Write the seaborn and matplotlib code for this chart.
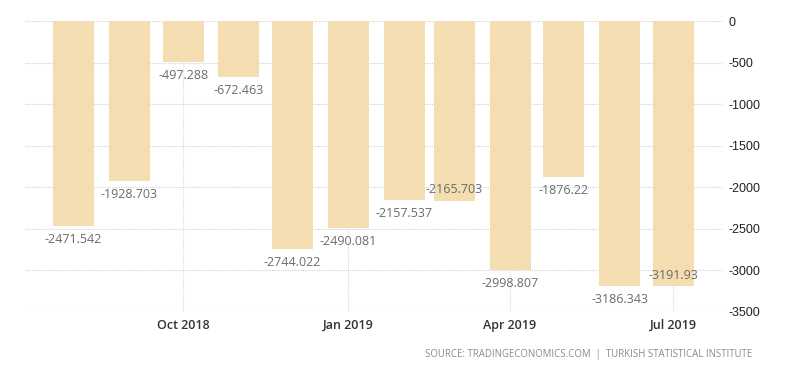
import numpy as np
import pandas as pd
import matplotlib
matplotlib.use("Agg")
import matplotlib.pyplot as plt
import matplotlib.dates as mdates
import seaborn as sns

# ---- data ----
months = ["2018-08-01", "2018-09-01", "2018-10-01", "2018-11-01", "2018-12-01", "2019-01-01",
          "2019-02-01", "2019-03-01", "2019-04-01", "2019-05-01", "2019-06-01", "2019-07-01"]
values = [-2471.542, -1928.703, -497.288, -672.463, -2744.022, -2490.081,
          -2157.537, -2165.703, -2998.807, -1876.22, -3186.343, -3191.93]
value_labels = ["-2471.542", "-1928.703", "-497.288", "-672.463", "-2744.022", "-2490.081",
                "-2157.537", "-2165.703", "-2998.807", "-1876.22", "-3186.343", "-3191.93"]
xtick_dates = ["2018-10-01", "2019-01-01", "2019-04-01", "2019-07-01"]
xtick_labels = ["Oct 2018", "Jan 2019", "Apr 2019", "Jul 2019"]
ytick_values = [0, -500, -1000, -1500, -2000, -2500, -3000, -3500]
source_text = "SOURCE: TRADINGECONOMICS.COM  |  TURKISH STATISTICAL INSTITUTE"

BAR = "#F3DDB1"

sns.set_theme(style="white")
plt.rcParams["font.family"] = ["Open Sans", "DejaVu Sans"]

fig = plt.figure(figsize=(8.0, 3.73), dpi=100)
ax = fig.add_axes([25 / 800, 1 - 312 / 373, (722 - 25) / 800, (312 - 21) / 373])

dnum = mdates.date2num(pd.to_datetime(months))
df = pd.DataFrame({"x": dnum, "v": values})
sns.barplot(data=df, x="x", y="v", native_scale=True, width=0.815, color=BAR,
            saturation=1, linewidth=0, ax=ax, errorbar=None)

x0 = mdates.date2num(pd.Timestamp("2018-07-05"))
x1 = mdates.date2num(pd.Timestamp("2019-07-28"))
ax.set_xlim(x0, x1)
ax.set_ylim(-3500, 0)

# grid
for yv in ytick_values:
    ax.axhline(yv, color="#d2d2d2", lw=0.8, ls=(0, (1, 1)), zorder=0)
xt = mdates.date2num(pd.to_datetime(xtick_dates))
for xv in xt:
    ax.axvline(xv, color="#dadada", lw=0.8, ls=(0, (1, 1)), zorder=0)

for s in ax.spines.values():
    s.set_visible(False)

ax.set_xticks(xt)
ax.set_xticklabels(xtick_labels, fontsize=9, color="#333333", fontweight="semibold")
ax.yaxis.tick_right()
ax.set_yticks(ytick_values)
ax.set_yticklabels([str(v) for v in ytick_values], fontsize=9, color="#222222",
                   family=["Liberation Sans", "DejaVu Sans"])
ax.tick_params(axis="both", length=0)
ax.tick_params(axis="x", pad=5)
ax.tick_params(axis="y", pad=5)
ax.set_xlabel("")
ax.set_ylabel("")

# value labels: below bar end, or above when colliding with previous label
prev_below = False
for i, (xv, v, lab) in enumerate(zip(dnum, values, value_labels)):
    above = False
    if i > 0 and prev_below and abs(v - values[i - 1]) < 100:
        above = True
    if above:
        ax.annotate(lab, (xv, v), xytext=(0, 8), textcoords="offset points",
                    ha="center", va="center", fontsize=9, color="#6b6b6b")
        prev_below = False
    else:
        ax.annotate(lab, (xv, v), xytext=(0, -9.5), textcoords="offset points",
                    ha="center", va="center", fontsize=9, color="#6b6b6b",
                    annotation_clip=False)
        prev_below = True

fig.text(752 / 800, 1 - 355 / 373, source_text, ha="right", va="center",
         fontsize=6.9, color="#8a8a8a")

fig.savefig("out.png", dpi=100)
